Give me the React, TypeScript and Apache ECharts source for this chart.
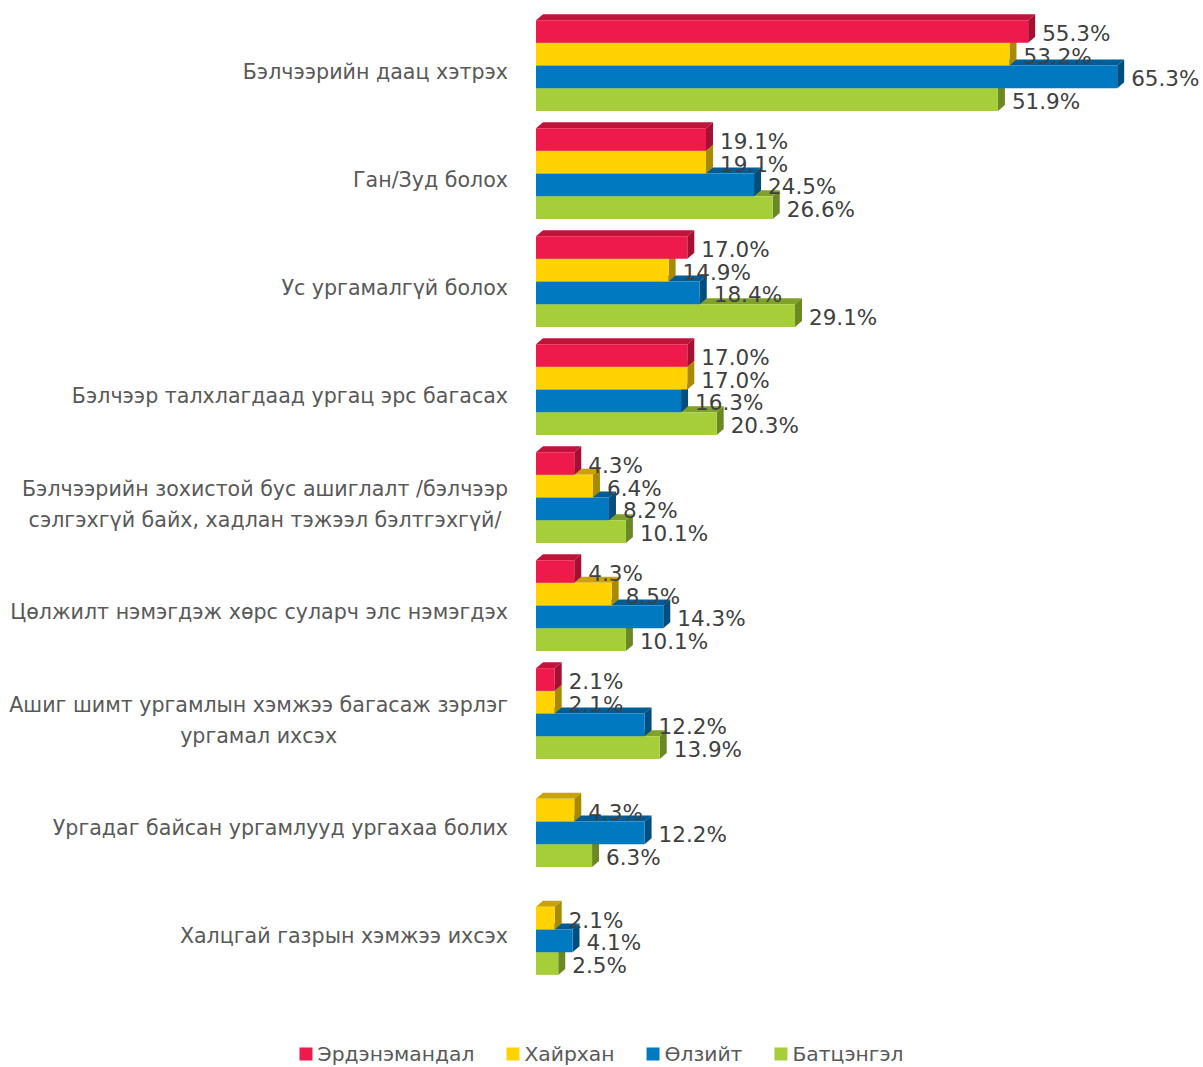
import React, { useEffect, useRef } from "react";
import * as echarts from "echarts";

const categories = [
  "Бэлчээрийн даац хэтрэх",
  "Ган/Зуд болох",
  "Ус ургамалгүй болох",
  "Бэлчээр талхлагдаад ургац эрс багасах",
  "Бэлчээрийн зохистой бус ашиглалт /бэлчээр\nсэлгэхгүй байх, хадлан тэжээл бэлтгэхгүй/",
  "Цөлжилт нэмэгдэж хөрс суларч элс нэмэгдэх",
  "Ашиг шимт ургамлын хэмжээ багасаж зэрлэг\nургамал ихсэх",
  "Ургадаг байсан ургамлууд ургахаа болих",
  "Халцгай газрын хэмжээ ихсэх",
];

const seriesNames = ["Эрдэнэмандал", "Хайрхан", "Өлзийт", "Батцэнгэл"];

const erdenemandal = [55.3, 19.1, 17.0, 17.0, 4.3, 4.3, 2.1, null, null];
const khairkhan = [53.2, 19.1, 14.9, 17.0, 6.4, 8.5, 2.1, 4.3, 2.1];
const ulziit = [65.3, 24.5, 18.4, 16.3, 8.2, 14.3, 12.2, 12.2, 4.1];
const battsengel = [51.9, 26.6, 29.1, 20.3, 10.1, 10.1, 13.9, 6.3, 2.5];

const seriesValues = [erdenemandal, khairkhan, ulziit, battsengel];

const frontColors = ["#EE1A4B", "#FFD200", "#0079C1", "#A6CE39"];
const topColors = ["#C0123A", "#C9A400", "#005C96", "#7FA02A"];
const sideColors = ["#A50F32", "#A88A00", "#004E80", "#6A8823"];

export default function App() {
  const ref = useRef<HTMLDivElement>(null);

  useEffect(() => {
    document.body.style.margin = "0";
    if (!ref.current) return;
    const chart = echarts.init(ref.current, null, { renderer: "svg" });

    const DX = 7;
    const DY = 6;

    const series = seriesValues.map((vals, si) => ({
      name: seriesNames[si],
      type: "custom",
      z: 10 - si,
      itemStyle: { color: frontColors[si] },
      encode: { x: 0, y: 1 },
      data: vals.map((v, ci) => [v == null ? NaN : v, ci]),
      renderItem: (params: any, api: any) => {
        const v = api.value(0);
        const c = api.value(1);
        if (v == null || isNaN(v)) return null;
        const base = api.coord([0, c]);
        const end = api.coord([v, c]);
        const band = api.size([0, 1])[1];
        const bh = band * 0.21;
        const groupTop = base[1] - 2 * bh - band * 0.06;
        const y0 = groupTop + si * bh;
        const y1 = y0 + bh;
        const x0 = base[0];
        const x1 = end[0];
        return {
          type: "group",
          children: [
            {
              type: "polygon",
              shape: {
                points: [
                  [x0, y0],
                  [x0 + DX, y0 - DY],
                  [x1 + DX, y0 - DY],
                  [x1, y0],
                ],
              },
              style: { fill: topColors[si] },
            },
            {
              type: "polygon",
              shape: {
                points: [
                  [x1, y0],
                  [x1 + DX, y0 - DY],
                  [x1 + DX, y1 - DY],
                  [x1, y1],
                ],
              },
              style: { fill: sideColors[si] },
            },
            {
              type: "rect",
              shape: { x: x0, y: y0, width: x1 - x0, height: bh },
              style: { fill: frontColors[si] },
            },
            {
              type: "text",
              x: x1 + DX + 7,
              y: (y0 + y1) / 2 + 2,
              style: {
                text: v.toFixed(1) + "%",
                fill: "#404040",
                font: '21.5px "DejaVu Sans"',
                align: "left",
                verticalAlign: "middle",
              },
            },
          ],
        };
      },
    }));

    chart.setOption({
      animation: false,
      backgroundColor: "#ffffff",
      grid: { left: 536, width: 623, top: 18, bottom: 77, containLabel: false },
      xAxis: {
        type: "value",
        min: 0,
        max: 70,
        show: false,
      },
      yAxis: {
        type: "category",
        inverse: true,
        data: categories,
        axisLine: { show: false },
        axisTick: { show: false },
        splitLine: { show: false },
        axisLabel: {
          margin: 28,
          color: "#595959",
          fontSize: 20.6,
          fontFamily: "DejaVu Sans",
          lineHeight: 31,
          formatter: (val: string) =>
            val
              .split("\n")
              .map((l) => "{c|" + l + "}")
              .join("\n"),
          rich: {
            c: {
              align: "center",
              color: "#595959",
              fontSize: 20.6,
              fontFamily: "DejaVu Sans",
              lineHeight: 31,
            },
          },
        },
      },
      legend: {
        bottom: -2,
        left: "center",
        itemWidth: 13,
        itemHeight: 13,
        itemGap: 32,
        icon: "rect",
        textStyle: {
          color: "#595959",
          fontSize: 20.3,
          fontFamily: "DejaVu Sans",
        },
        data: seriesNames,
      },
      series,
    });

    return () => chart.dispose();
  }, []);

  return <div ref={ref} style={{ width: 1203, height: 1067 }} />;
}
